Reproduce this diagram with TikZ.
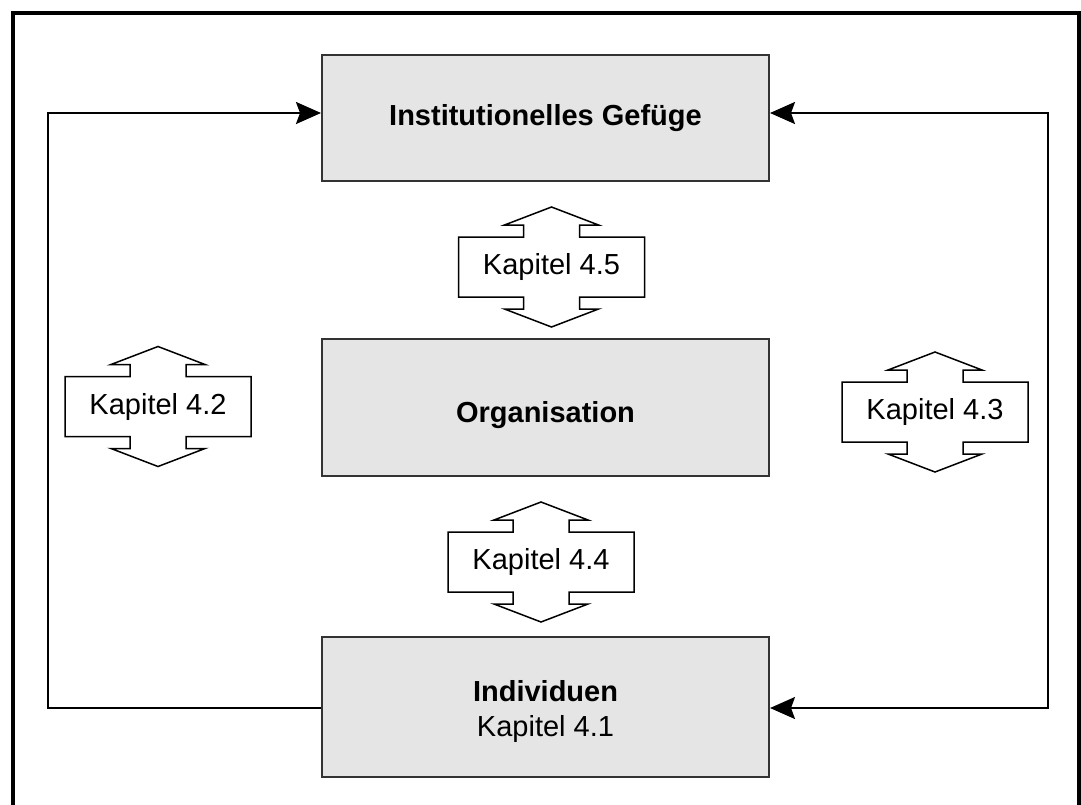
\documentclass[tikz,border=0pt]{standalone}
\usepackage{fontspec}
\setmainfont{Liberation Sans}
\usetikzlibrary{arrows.meta,calc}

\tikzset{
  txt/.style={font=\fontsize{29}{35}\selectfont},
  block/.style={draw=black!80, line width=2pt, fill=black!10, inner sep=0pt,
    minimum width=447pt, align=center, txt},
  kap/.style={inner sep=0pt, minimum width=186pt, minimum height=60pt, txt},
  kapline/.style={draw=black, line width=1.5pt, fill=white, line join=miter},
  conn/.style={draw=black, line width=2pt}
}

% outline of a two-headed block arrow around a label node
\newcommand\kapoutline[1]{%
  \path[kapline, shift={(#1.center)}]
    (-93,-30) -- (-28,-30) -- (-28,-42) -- (-47,-42) -- (0,-60)
    -- (47,-42) -- (28,-42) -- (28,-30) -- (93,-30)
    -- (93,30) -- (28,30) -- (28,42) -- (47,42) -- (0,60)
    -- (-47,42) -- (-28,42) -- (-28,30) -- (-93,30) -- cycle;}

\begin{document}
\begin{tikzpicture}[x=1pt, y=-1pt, >={Stealth[length=25pt, width=22pt, inset=4pt]}]
  \path[use as bounding box] (0,0) rectangle (1081,804);
  \begin{scope}
    \clip (0,0) rectangle (1081,804);
    \draw[line width=4.5pt] (13,13) rectangle (1079.5,840);
  \end{scope}

  % main blocks
  \node[block, minimum height=126pt] (inst) at (545.5,118) {\textbf{Institutionelles Gefüge}};
  \node[block, minimum height=137pt] (org) at (545.5,407.5) {};
  \node[txt] at ([yshift=-8pt]org.center) {\textbf{Organisation}};
  \node[block, minimum height=140pt] (indiv) at (545.5,707) {};
  \node[txt, align=center] at ([yshift=-4pt]indiv.center) {\textbf{Individuen}\\Kapitel 4.1};

  % chapter labels with two-headed arrows
  \node[kap] (k45) at (551.5,267) {};
  \node[kap] (k42) at (158,406.5) {};
  \node[kap] (k43) at (935,412) {};
  \node[kap] (k44) at (541,562) {};
  \kapoutline{k45}
  \kapoutline{k42}
  \kapoutline{k43}
  \kapoutline{k44}
  \node[kap] at (k45) {Kapitel 4.5};
  \node[kap] at (k42) {Kapitel 4.2};
  \node[kap] at (k43) {Kapitel 4.3};
  \node[kap] at (k44) {Kapitel 4.4};

  % feedback loops
  \coordinate (lt) at (48,113);
  \coordinate (lb) at (48,708);
  \coordinate (rt) at (1048,113);
  \coordinate (rb) at (1048,708);
  \draw[conn, ->] (lb -| indiv.west) -- (lb) -- (lt) -- (lt -| inst.west);
  \draw[conn, <->] (rt -| inst.east) -- (rt) -- (rb) -- (rb -| indiv.east);
\end{tikzpicture}
\end{document}
